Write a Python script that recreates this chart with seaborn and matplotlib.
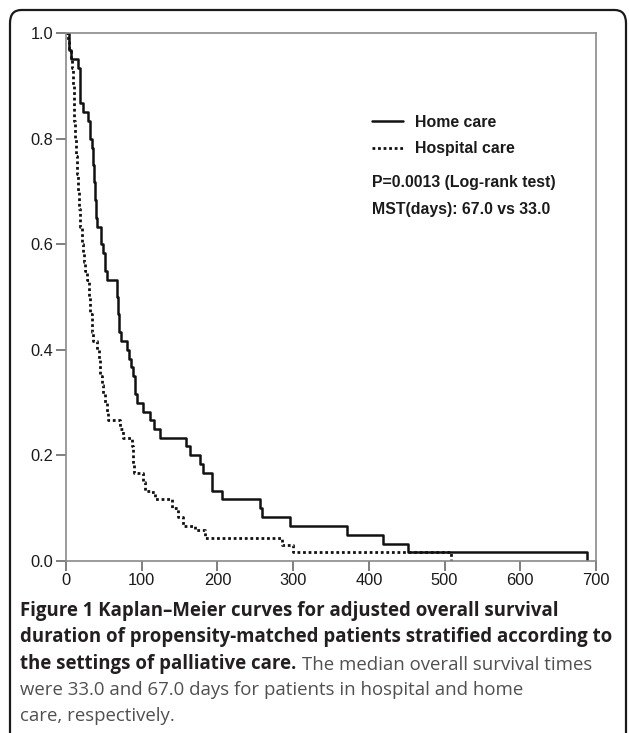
import numpy as np
import pandas as pd
import seaborn as sns
import matplotlib.pyplot as plt
from matplotlib.patches import FancyBboxPatch

# Kaplan-Meier steps (days, survival after the step)
home_days = [0, 4, 7, 16, 18, 19, 23, 29, 31, 34, 35, 37, 38, 40, 41, 46, 49, 51, 54,
             67, 68, 70, 73, 80, 83, 86, 88, 91, 94, 102, 111, 116, 124, 158, 164,
             177, 181, 193, 206, 256, 259, 296, 371, 419, 452, 688]
home_surv = [1.0, 0.967, 0.95, 0.933, 0.9, 0.867, 0.85, 0.833, 0.8, 0.783, 0.75, 0.717,
             0.683, 0.65, 0.633, 0.6, 0.583, 0.55, 0.533,
             0.5, 0.467, 0.433, 0.417, 0.4, 0.383, 0.367, 0.35, 0.317, 0.3, 0.283,
             0.267, 0.25, 0.233, 0.217, 0.2,
             0.183, 0.167, 0.133, 0.117, 0.1, 0.083, 0.067, 0.05, 0.033, 0.017, 0.0]

hosp_days = [0, 2, 4, 6, 8, 9, 10, 11, 12, 13, 14, 16, 17, 19, 21, 23, 24, 25, 28, 30,
             32, 34, 36, 41, 43, 45, 47, 49, 52, 54, 56, 71, 75, 87, 88, 89, 90, 102,
             104, 111, 118, 140, 148, 155, 170, 183, 285, 300, 509]
hosp_surv = [1.0, 0.983, 0.967, 0.95, 0.933, 0.9, 0.867, 0.833, 0.8, 0.767, 0.733, 0.7,
             0.667, 0.633, 0.6, 0.583, 0.567, 0.55, 0.533, 0.5,
             0.467, 0.433, 0.417, 0.4, 0.383, 0.35, 0.333, 0.317, 0.3, 0.283, 0.267,
             0.25, 0.233, 0.217, 0.2, 0.183, 0.167, 0.15,
             0.133, 0.13, 0.117, 0.1, 0.083, 0.067, 0.058, 0.044, 0.03, 0.017, 0.0]

x_ticks = [0, 100, 200, 300, 400, 500, 600, 700]
y_ticks = [0.0, 0.2, 0.4, 0.6, 0.8, 1.0]

legend_labels = ['Home care', 'Hospital care']
stat_lines = ['P=0.0013 (Log-rank test)', 'MST(days): 67.0 vs 33.0']

caption_bold = ['Figure 1 Kaplan\u2013Meier curves for adjusted overall survival',
                'duration of propensity-matched patients stratified according to',
                'the settings of palliative care.']
caption_rest = ['The median overall survival times',
                'were 33.0 and 67.0 days for patients in hospital and home',
                'care, respectively.']

sns.set_style('white')
plt.rcParams['font.family'] = ['Liberation Sans', 'DejaVu Sans']

home = pd.DataFrame({'days': home_days, 'surv': home_surv})
hosp = pd.DataFrame({'days': hosp_days, 'surv': hosp_surv})

fig = plt.figure(figsize=(6.29, 7.33), dpi=100)
ax = fig.add_axes([0.105, 0.2347, 0.8425, 0.7203])

sns.lineplot(data=home, x='days', y='surv', ax=ax, color='#111111', lw=1.8,
             drawstyle='steps-post', estimator=None, sort=False, label=legend_labels[0])
sns.lineplot(data=hosp, x='days', y='surv', ax=ax, color='#111111', lw=2.0,
             linestyle=(0, (1, 1.0)), drawstyle='steps-post', estimator=None, sort=False,
             label=legend_labels[1])

ax.set_xlim(0, 700)
ax.set_ylim(0, 1.0)
ax.set_xticks(x_ticks)
ax.set_yticks(y_ticks)
ax.set_yticklabels([f'{v:.1f}' for v in y_ticks])
ax.set_xlabel('')
ax.set_ylabel('')
for s in ax.spines.values():
    s.set_color('#8a8a8a')
    s.set_linewidth(1.2)
ax.tick_params(axis='both', direction='out', length=7, width=1.2, color='#6a6a6a',
               labelsize=11.8, labelcolor='#1a1a1a', pad=2, left=True, bottom=True)

leg = ax.legend(loc='upper left', bbox_to_anchor=(0.577, 0.845), frameon=False,
                borderaxespad=0, borderpad=0, handlelength=1.95, handletextpad=0.75,
                labelspacing=0.72, prop={'weight': 'bold', 'size': 11.4})
for t in leg.get_texts():
    t.set_color('#1a1a1a')

for i, s in enumerate(stat_lines):
    ax.text(0.577, 0.716 - i * 0.051, s, transform=ax.transAxes, fontsize=11.4,
            fontweight='bold', color='#1a1a1a', va='center', ha='left')

# rounded panel border, open at the bottom
fig.patches.append(FancyBboxPatch((10 / 629, -0.05), 616 / 629, 1 - 10 / 733 + 0.05,
                                  boxstyle='round,pad=0,rounding_size=0.018',
                                  transform=fig.transFigure, fill=False,
                                  edgecolor='#1a1a1a', lw=1.6, clip_on=False))

# caption
cap_font = ['Open Sans', 'DejaVu Sans']
cap_size = 13.4
y0 = 1 - 611 / 733
step = 26.3 / 733
for i, line in enumerate(caption_bold):
    t = fig.text(20 / 629, y0 - i * step, line, fontsize=cap_size, fontweight='bold',
                 color='#231f20', family=cap_font, va='center')
t_last = t
ax.annotate(caption_rest[0], xy=(1, 0), xycoords=t_last, xytext=(4, 0),
            textcoords='offset points', fontsize=cap_size, color='#505050',
            family=cap_font, va='bottom', ha='left', annotation_clip=False)
for i, line in enumerate(caption_rest[1:]):
    fig.text(20 / 629, y0 - (i + 3) * step, line, fontsize=cap_size, color='#505050',
             family=cap_font, va='center')

fig.savefig('out.png', dpi=100)
